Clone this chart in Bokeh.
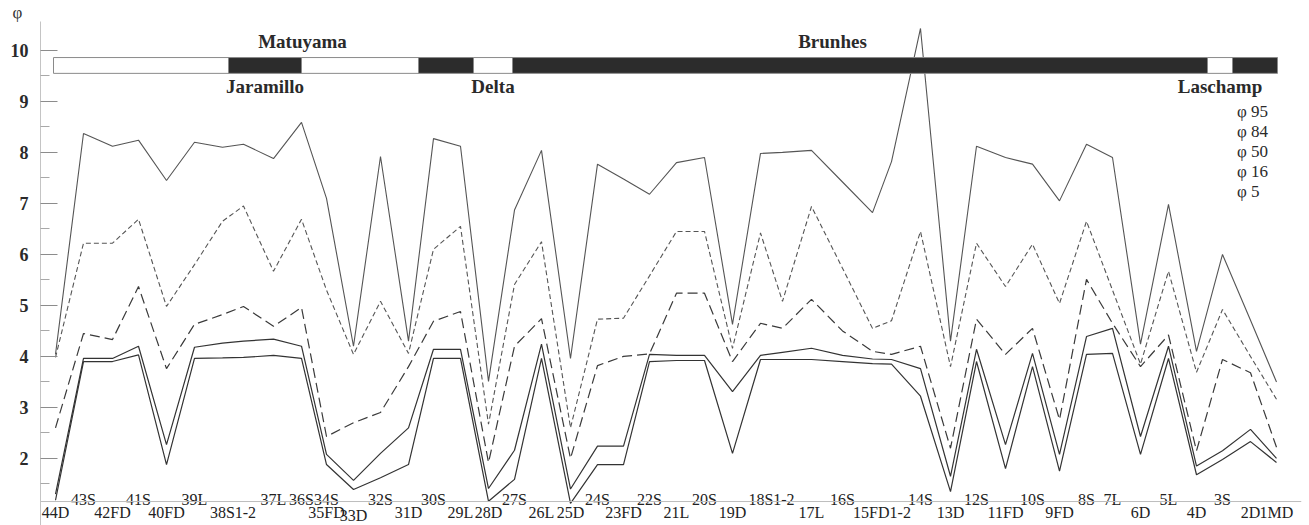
from bokeh.plotting import figure
from bokeh.models import (ColumnDataSource, Range1d, FixedTicker, Span,
                          Legend, LegendItem)
from bokeh.core.properties import value
from bokeh.embed import file_html
from bokeh.resources import INLINE

# ---------------- data ----------------
samples = ["44D", "43S", "42FD", "41S", "40FD", "39L", "38S1", "38S2", "37L", "36S", "34S",
           "33D", "32S", "31D", "30S", "29L", "28D", "27S", "26L", "25D", "24S", "23FD", "22S",
           "21L", "20S", "19D", "18S1", "18S2", "17L", "16S", "15FD1", "15FD2", "14S", "13D",
           "12S", "11FD", "10S", "9FD", "8S", "7L", "6D", "5L", "4D", "3S", "2D", "1MD"]
# position along the section (arbitrary section units)
sample_pos = [0.0, 2.8, 5.7, 8.3, 11.1, 13.9, 16.7, 18.8, 21.8, 24.6, 27.1,
              29.8, 32.5, 35.3, 37.8, 40.5, 43.3, 45.9, 48.6, 51.5, 54.2, 56.8, 59.4,
              62.1, 64.9, 67.7, 70.5, 72.7, 75.6, 78.7, 81.7, 83.6, 86.5, 89.5,
              92.1, 95.0, 97.7, 100.4, 103.1, 105.7, 108.5, 111.3, 114.1, 116.7, 119.5, 122.1]

phi95 = [4.04, 8.37, 8.12, 8.24, 7.45, 8.2, 8.1, 8.16, 7.88, 8.59, 7.1,
         4.2, 7.92, 4.3, 8.27, 8.12, 3.51, 6.87, 8.04, 3.96, 7.77, 7.48, 7.18,
         7.8, 7.9, 4.63, 7.98, 8.0, 8.04, 7.42, 6.82, 7.82, 10.43, 4.3,
         8.12, 7.9, 7.77, 7.05, 8.16, 7.9, 4.24, 6.98, 4.1, 6.0, 4.71, 3.5]
phi84 = [3.98, 6.22, 6.22, 6.69, 4.98, 5.8, 6.65, 6.95, 5.67, 6.69, 5.3,
         4.04, 5.08, 4.06, 6.1, 6.55, 2.67, 5.41, 6.25, 2.6, 4.73, 4.75, 5.58,
         6.45, 6.45, 4.16, 6.42, 5.08, 6.94, 5.73, 4.55, 4.7, 6.45, 3.8,
         6.22, 5.37, 6.2, 5.04, 6.65, 5.3, 3.85, 5.67, 3.69, 4.92, 4.0, 3.16]
phi50 = [2.6, 4.45, 4.33, 5.37, 3.76, 4.63, 4.82, 4.98, 4.59, 4.96, 2.43,
         2.7, 2.9, 3.8, 4.69, 4.88, 1.92, 4.2, 4.74, 2.0, 3.82, 4.0, 4.05,
         5.24, 5.24, 3.9, 4.65, 4.55, 5.12, 4.5, 4.1, 4.04, 4.2, 2.2,
         4.73, 4.04, 4.55, 2.76, 5.51, 4.65, 3.8, 4.42, 2.15, 3.94, 3.68, 2.22]
phi16 = [1.3, 3.96, 3.96, 4.2, 2.27, 4.18, 4.26, 4.3, 4.34, 4.2, 2.08,
         1.57, 2.1, 2.6, 4.14, 4.14, 1.41, 2.16, 4.24, 1.4, 2.24, 2.24, 4.04,
         4.02, 4.02, 3.31, 4.02, 4.08, 4.16, 4.02, 3.95, 3.94, 3.76, 1.65,
         4.14, 2.27, 4.06, 2.08, 4.39, 4.55, 2.43, 4.2, 1.85, 2.15, 2.57, 2.0]
phi5 = [1.18, 3.9, 3.9, 4.03, 1.88, 3.96, 3.97, 3.98, 4.02, 3.96, 1.88,
        1.39, 1.62, 1.88, 3.96, 3.96, 1.16, 1.59, 3.96, 1.12, 1.88, 1.88, 3.9,
        3.92, 3.92, 2.1, 3.94, 3.94, 3.94, 3.9, 3.86, 3.85, 3.22, 1.35,
        3.9, 1.8, 3.8, 1.75, 4.04, 4.06, 2.08, 3.96, 1.68, 1.98, 2.33, 1.92]

tick_labels = ["44D", "43S", "42FD", "41S", "40FD", "39L", "38S1-2", "37L", "36S", "34S", "35FD",
               "33D", "32S", "31D", "30S", "29L", "28D", "27S", "26L", "25D", "24S", "23FD",
               "22S", "21L", "20S", "19D", "18S1-2", "17L", "16S", "15FD1-2", "14S", "13D",
               "12S", "11FD", "10S", "9FD", "8S", "7L", "6D", "5L", "4D", "3S", "2D", "1MD"]
tick_rows = [1, 0, 1, 0, 1, 0, 1, 0, 0, 0, 1,
             2, 0, 1, 0, 1, 1, 0, 1, 1, 0, 1,
             0, 1, 0, 1, 0, 1, 0, 1, 0, 1,
             0, 1, 0, 1, 0, 0, 1, 0, 1, 0, 1, 1]
tick_anchor = {"38S1-2": ["38S1", "38S2"], "18S1-2": ["18S1", "18S2"],
               "15FD1-2": ["15FD1", "15FD2"], "35FD": ["34S"]}

# polarity chrons (section units)
chron_left = [-0.2, 17.3, 24.6, 36.3, 41.8, 45.7, 115.2, 117.7]
chron_right = [17.3, 24.6, 36.3, 41.8, 45.7, 115.2, 117.7, 122.2]
chron_normal = [False, True, False, True, False, True, False, True]
chron_names = ["Matuyama", "Jaramillo", "Delta", "Brunhes", "Laschamp"]
chron_name_pos = [24.7, None, None, 77.7, None]   # None -> centred on its segment
chron_name_seg = [None, 1, 4, None, 6]
chron_name_above = [True, False, False, True, False]

legend_labels = ["\u03c6 95", "\u03c6 84", "\u03c6 50", "\u03c6 16", "\u03c6 5"]

# ---------------- figure ----------------
SERIF = "Liberation Serif"
p = figure(width=1309, height=525, output_backend="svg", toolbar_location=None,
           x_range=Range1d(-1.5, 124.6), y_range=Range1d(0.685, 10.567),
           x_axis_type=None, min_border_left=40, min_border_right=8,
           min_border_top=8, min_border_bottom=0)
p.grid.visible = False
p.outline_line_color = None
p.background_fill_color = "white"
p.border_fill_color = "white"

# y-axis symbol as a small title above the axis
p.title.text = "\u03c6"
p.title.align = "left"
p.title.offset = -28
p.title.standoff = 0
p.title.text_font = SERIF
p.title.text_font_size = "17px"
p.title.text_font_style = "normal"
p.title.text_color = "#333333"

yax = p.yaxis[0]
yax.ticker = FixedTicker(ticks=[2, 3, 4, 5, 6, 7, 8, 9, 10],
                         minor_ticks=[1.5, 2.5, 3.5, 4.5, 5.5, 6.5, 7.5, 8.5, 9.5])
yax.major_tick_in = 17
yax.major_tick_out = 0
yax.minor_tick_in = 9
yax.minor_tick_out = 0
yax.axis_line_color = "#c4c4c4"
yax.major_tick_line_color = "#8c8c8c"
yax.minor_tick_line_color = "#a8a8a8"
yax.major_label_standoff = 12
yax.major_label_text_font = SERIF
yax.major_label_text_font_size = "18px"
yax.major_label_text_font_style = "bold"
yax.major_label_text_color = "#2a2a2a"

# x axis base line
p.add_layout(Span(location=1.155, dimension="width", line_color="#bdbdbd", line_width=1))

# series
src = ColumnDataSource(dict(x=sample_pos, p95=phi95, p84=phi84, p50=phi50, p16=phi16, p5=phi5))
p.line("x", "p95", source=src, line_color="#555555", line_width=1.1)
p.line("x", "p84", source=src, line_color="#555555", line_width=1.1, line_dash="5 3")
p.line("x", "p50", source=src, line_color="#3a3a3a", line_width=1.2, line_dash="10 5")
p.line("x", "p16", source=src, line_color="#333333", line_width=1.2)
p.line("x", "p5", source=src, line_color="#333333", line_width=1.2)

# staggered sample labels
pos_of = dict(zip(samples, sample_pos))
row_y = {0: 1.19, 1: 0.935, 2: 0.885}
lx = []
ly = []
for lab, row in zip(tick_labels, tick_rows):
    anchors = tick_anchor.get(lab, [lab])
    lx.append(sum(pos_of[a] for a in anchors) / len(anchors))
    ly.append(row_y[row])
p.text(x=lx, y=ly, text=tick_labels, text_font=value(SERIF), text_font_size="16px",
       text_align="center", text_baseline="middle", text_color="#222222")

# polarity bar
bar_src = ColumnDataSource(dict(
    left=chron_left, right=chron_right,
    color=["#2c2c2c" if n else "white" for n in chron_normal]))
p.quad(left="left", right="right", bottom=9.55, top=9.86, source=bar_src,
       fill_color="color", line_color="#8a8a8a", line_width=1)

cx, cy, ct = [], [], []
for name, pos, seg, above in zip(chron_names, chron_name_pos, chron_name_seg, chron_name_above):
    if pos is None:
        pos = (chron_left[seg] + chron_right[seg]) / 2
    cx.append(pos)
    cy.append(10.17 if above else 9.29)
    ct.append(name)
p.text(x=cx, y=cy, text=ct, text_font=value(SERIF), text_font_size="19px",
       text_font_style="bold", text_align="center", text_baseline="middle",
       text_color="#2a2a2a")

# legend (faint sample lines, as in the print)
leg_styles = [("#c8c8c8", "2 2"), ("#ececec", "solid"), ("#dcdcdc", "solid"),
              ("#8f8f8f", "solid"), ("#e0e0e0", "solid")]
items = []
for lab, (col, dash) in zip(legend_labels, leg_styles):
    r = p.line(x=[], y=[], line_color=col, line_width=1, line_dash=dash)
    items.append(LegendItem(label=lab, renderers=[r]))
legend = Legend(items=items, location=(1087, 323), orientation="vertical",
                glyph_width=103, glyph_height=18, label_height=18, spacing=0,
                label_standoff=7, padding=0, margin=0,
                label_text_font=SERIF, label_text_font_size="17px",
                label_text_color="#2a2a2a", border_line_alpha=0,
                background_fill_alpha=0)
p.add_layout(legend)

open("out.html", "w").write(file_html(p, INLINE))
